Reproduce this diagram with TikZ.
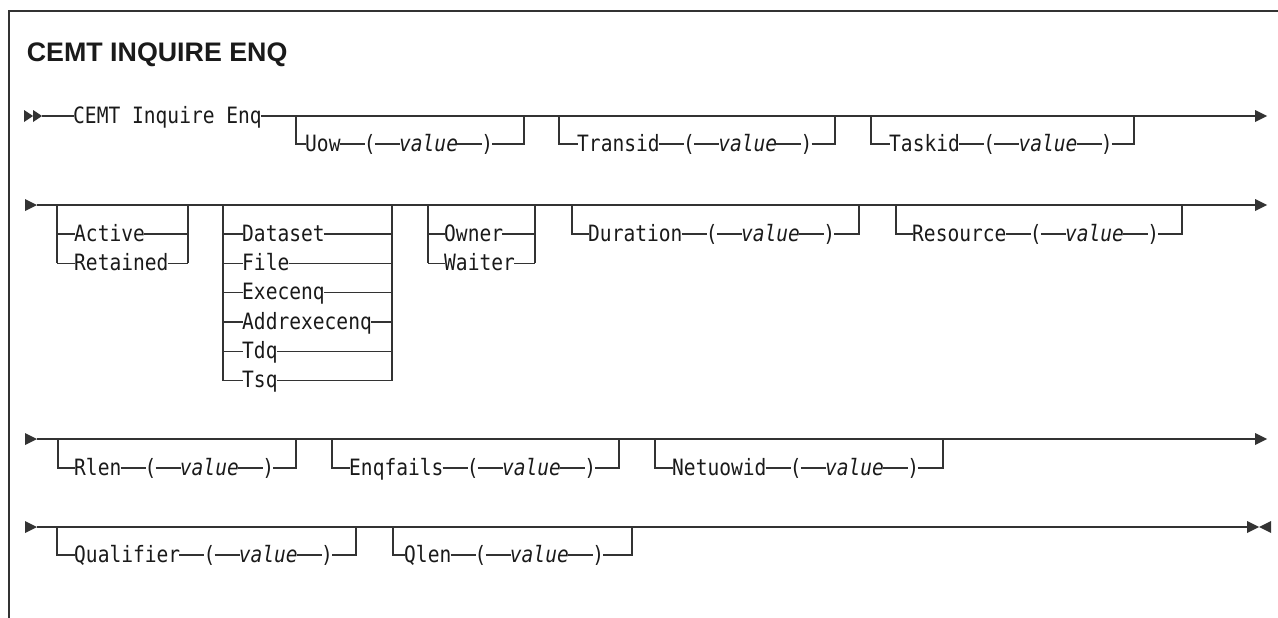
\documentclass[tikz,border=0pt]{standalone}
\usepackage{fontspec}
\setmonofont{DejaVu Sans Mono}[FakeStretch=0.87]
\newfontfamily\titlefont{Liberation Sans}
\usetikzlibrary{positioning}
\definecolor{lc}{HTML}{333333}
\definecolor{tc}{HTML}{1A1A1A}
\newcommand\monofnt{\fontsize{22.5pt}{26pt}\selectfont\ttfamily}
% optional branch: name, left x, text x, right x, main y, branch y, label
\newcommand\optbr[7]{%
  \coordinate (#1L) at (#2,#5);
  \coordinate (#1R) at (#4,#5);
  \node[lbl,anchor=west] (#1a) at (#3,#6) {#7};
  \node[lbl,right=25pt of #1a] (#1b) {(};
  \node[vlbl,right=25pt of #1b] (#1c) {value};
  \node[lbl,right=25pt of #1c] (#1d) {)};
  \draw[rr] (#1L) |- (#1a);
  \draw[rr] (#1a) -- (#1b) -- (#1c) -- (#1d);
  \draw[rr] (#1d) -| (#1R);
}
% choice row: group left coord, group right coord, node name, text x, y, label
\newcommand\chrow[6]{%
  \node[lbl,anchor=west] (#3) at (#4,#5) {#6};
  \draw[rr] (#1 |- #3) -- (#3);
  \draw[rr] (#3) -- (#2 |- #3);
}
\newcommand\triR[3]{\fill[lc] ({#1},{#2-#3}) -- ({#1+12},{#2}) -- ({#1},{#2+#3}) -- cycle;}
\begin{document}
\begin{tikzpicture}[x=1pt,y=-1pt,
  rr/.style={draw=lc,line width=1.3pt},
  lbl/.style={inner xsep=-1pt,inner ysep=0pt,text height=16pt,text depth=2pt,font=\monofnt,text=tc},
  vlbl/.style={lbl,font=\monofnt\itshape}]
\useasboundingbox (0,0) rectangle (1278,618);
\fill[white] (0,0) rectangle (1278,618);
% frame
\draw[draw=lc,line width=1.4pt] (9,619) -- (9,11) -- (1279,11);
% title
\node[anchor=base west,inner sep=0pt,text=tc,font=\titlefont\bfseries\fontsize{26.8pt}{30pt}\selectfont] (title) at (26.7,61.7) {CEMT INQUIRE ENQ};

% ---------------- row 1
\fill[lc] (24,110) -- (33,116) -- (24,122) -- cycle;
\fill[lc] (33,110) -- (42,116) -- (33,122) -- cycle;
\coordinate (s1) at (42,116);
\coordinate (e1) at (1255,116);
\node[lbl,anchor=west] (cemt) at (74,116) {CEMT Inquire Enq};
\draw[rr] (s1) -- (cemt);
\draw[rr] (cemt) -- (e1);
\triR{1255}{116}{6}
\optbr{uow}{296}{306}{524}{116}{144}{Uow}
\optbr{trn}{559}{578}{835}{116}{144}{Transid}
\optbr{tsk}{871}{890}{1134}{116}{144}{Taskid}

% ---------------- row 2
\triR{25}{205}{6}
\coordinate (s2) at (37,205);
\coordinate (e2) at (1255,205);
\draw[rr] (s2) -- (e2);
\triR{1255}{205}{6}
% Active / Retained
\coordinate (gaL) at (57,205);
\coordinate (gaR) at (188,205);
\chrow{gaL}{gaR}{act}{75}{234}{Active}
\chrow{gaL}{gaR}{ret}{75}{263.3}{Retained}
\draw[rr] (gaL) -- (gaL |- ret);
\draw[rr] (gaR) -- (gaR |- ret);
% Dataset group
\coordinate (gdL) at (223,205);
\coordinate (gdR) at (392,205);
\chrow{gdL}{gdR}{dset}{243}{234}{Dataset}
\chrow{gdL}{gdR}{file}{243}{263.3}{File}
\chrow{gdL}{gdR}{exe}{243}{292.6}{Execenq}
\chrow{gdL}{gdR}{addr}{243}{322}{Addrexecenq}
\chrow{gdL}{gdR}{tdq}{243}{351.3}{Tdq}
\chrow{gdL}{gdR}{tsq}{243}{380.6}{Tsq}
\draw[rr] (gdL) -- (gdL |- tsq);
\draw[rr] (gdR) -- (gdR |- tsq);
% Owner / Waiter
\coordinate (goL) at (428,205);
\coordinate (goR) at (535,205);
\chrow{goL}{goR}{own}{445}{234}{Owner}
\chrow{goL}{goR}{wai}{445}{263.3}{Waiter}
\draw[rr] (goL) -- (goL |- wai);
\draw[rr] (goR) -- (goR |- wai);
\optbr{dur}{572}{589}{859}{205}{234}{Duration}
\optbr{res}{896}{913}{1182}{205}{234}{Resource}

% ---------------- row 3
\triR{25}{439}{6}
\coordinate (s3) at (37,439);
\coordinate (e3) at (1255,439);
\draw[rr] (s3) -- (e3);
\triR{1255}{439}{6}
\optbr{rln}{58}{75}{296}{439}{468}{Rlen}
\optbr{enf}{332}{350}{619}{439}{468}{Enqfails}
\optbr{net}{655}{673}{943}{439}{468}{Netuowid}

% ---------------- row 4
\triR{25}{527}{6}
\coordinate (s4) at (37,527);
\coordinate (e4) at (1247,527);
\draw[rr] (s4) -- (e4);
\triR{1247}{527}{6}
\fill[lc] (1271,521) -- (1259,527) -- (1271,533) -- cycle;
\draw[draw=lc,line width=2.8pt] (639,527) -- (661,527);
\optbr{qul}{57}{75}{356}{527}{555}{Qualifier}
\optbr{qln}{393}{405}{632}{527}{555}{Qlen}
\end{tikzpicture}
\end{document}
